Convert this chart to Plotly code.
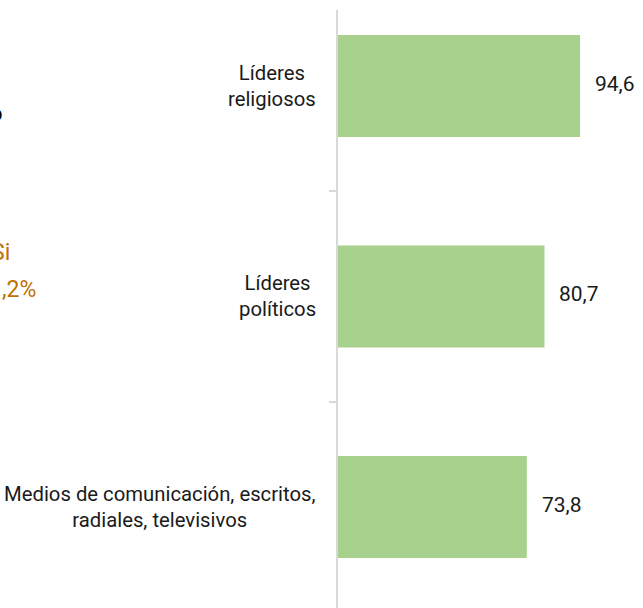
import plotly.graph_objects as go

# Data
categories = ["Líderes religiosos", "Líderes políticos",
              "Medios de comunicación, escritos, radiales, televisivos"]
labels = ["Líderes<br>religiosos", "Líderes<br>políticos",
          "Medios de comunicación, escritos,<br>radiales, televisivos"]
values = [94.6, 80.7, 73.8]

FONT = "Roboto, Arial, sans-serif"
BAR_COLOR = "#A9D18E"
AXIS_COLOR = "#D9D9D9"
TEXT_COLOR = "#1a1a1a"

fig = go.Figure()

fig.add_trace(
    go.Bar(
        x=values,
        y=categories,
        orientation="h",
        width=0.485,
        marker=dict(color=BAR_COLOR, line=dict(width=0)),
        hoverinfo="x+y",
    )
)

# category labels, centred lines to the left of the axis
for cat, lab in zip(categories, labels):
    fig.add_annotation(
        text=lab, x=0, xref="paper", y=cat, yref="y",
        xanchor="right", yanchor="middle", xshift=-20,
        align="center", showarrow=False,
        font=dict(family=FONT, size=20.3, color=TEXT_COLOR),
    )

# value labels
for cat, v in zip(categories, values):
    fig.add_annotation(
        text=f"{v:.1f}".replace(".", ","), x=v, xref="x", y=cat, yref="y",
        xanchor="left", yanchor="middle", xshift=13, yshift=2,
        showarrow=False,
        font=dict(family=FONT, size=21, color=TEXT_COLOR),
    )

# leftovers of the neighbouring chart that sit at the cropped left edge
fig.add_annotation(text="o", x=0, xref="paper", y=0.852, yref="paper",
                   xanchor="right", xshift=-333, showarrow=False,
                   font=dict(family=FONT, size=22, color="#000000"))
fig.add_annotation(text="Si", x=0, xref="paper", y=0.594, yref="paper",
                   xanchor="right", xshift=-326, showarrow=False,
                   font=dict(family=FONT, size=23, color="#C07000"))
fig.add_annotation(text=",2%", x=0, xref="paper", y=0.533, yref="paper",
                   xanchor="right", xshift=-300, showarrow=False,
                   font=dict(family=FONT, size=23, color="#C07000"))

fig.update_xaxes(range=[0, 119.2], visible=False, showgrid=False, zeroline=False)
fig.update_yaxes(
    type="category",
    range=[2.48, -0.361],
    showgrid=False,
    showticklabels=False,
    showline=True, linecolor=AXIS_COLOR, linewidth=2,
    ticks="outside", tickson="boundaries", ticklen=7,
    tickcolor=AXIS_COLOR, tickwidth=2,
)

fig.update_layout(
    width=643,
    height=608,
    margin=dict(l=338, r=0, t=10, b=0),
    paper_bgcolor="white",
    plot_bgcolor="white",
    showlegend=False,
    font=dict(family=FONT),
)

# the page body has a default 8px margin; drop it so the figure sits at 0,0
fig.write_html("out.html", config={"displayModeBar": False},
               post_script="document.body.style.margin='0';")
